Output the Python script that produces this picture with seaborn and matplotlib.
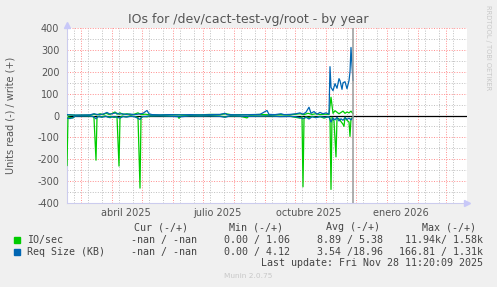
import numpy as np
import pandas as pd
import matplotlib
matplotlib.use("Agg")
import matplotlib.pyplot as plt
import matplotlib.dates as mdates
import matplotlib.transforms as mtransforms
import seaborn as sns

# ---------------- data (days since 2025-01-01) ----------------
BASE = pd.Timestamp("2025-01-01")

io_read_days = [45, 46, 48, 51, 53, 58, 66, 71, 72, 74, 75, 77, 80, 83, 86, 89, 92, 95, 97, 98,
                100, 104, 108, 112, 116, 118, 119, 121, 125, 128, 138, 148, 156, 157, 159, 168,
                178, 188, 198, 203, 208, 218, 225, 227, 238, 248, 258, 268, 273, 278, 280, 281,
                282, 284, 287, 290, 294, 298, 302, 306, 308, 309, 310, 312, 314, 315, 317, 319,
                321, 322, 323, 325, 327, 328, 329, 331]
io_read_vals = [-230, -6, -9, -11, -2, -1, -2, -4, -12, -205, -8, -3, -6, -2, -7, -4, -9, -5, -232, -8,
                -3, -6, -2, -4, -9, -333, -10, -4, -6, -2, -1, -3, -4, -13, -3, -1,
                -2, -1, -3, -6, -2, -3, -11, -2, -3, -2, -4, -3, -8, -12, -6, -327,
                -15, -6, -10, -4, -9, -5, -12, -6, -10, -339, -8, -25, -190, -12, -15, -28,
                -40, -50, -8, -22, -30, -96, -15, -8]

io_write_days = [45, 48, 53, 68, 72, 75, 78, 81, 84, 87, 90, 93, 95, 98, 101, 105, 109, 113, 116, 119,
                 123, 128, 138, 148, 158, 168, 178, 188, 198, 204, 210, 218, 228, 238, 248, 258,
                 268, 274, 278, 282, 286, 290, 294, 298, 303, 307, 309, 311, 313, 315, 317, 319,
                 321, 323, 325, 327, 329, 331]
io_write_vals = [2, 3, 1, 2, 6, 3, 8, 4, 10, 5, 9, 16, 6, 12, 5, 8, 3, 7, 12, 4,
                 6, 3, 2, 4, 3, 2, 3, 5, 4, 8, 3, 4, 3, 5, 3, 4,
                 3, 6, 8, 4, 10, 5, 8, 4, 6, 5, 84, 10, 22, 15, 8, 14,
                 20, 10, 16, 12, 20, 8]

req_read_days = [45, 48, 51, 53, 68, 72, 74, 76, 80, 84, 88, 91, 95, 98, 101, 105, 109, 113, 118, 120,
                 124, 128, 138, 148, 158, 168, 178, 188, 198, 203, 208, 218, 228, 238, 248, 258,
                 268, 274, 278, 281, 284, 287, 290, 294, 298, 303, 307, 309, 311, 313, 315, 317,
                 319, 321, 323, 325, 327, 329, 331]
req_read_vals = [-12, -14, -10, -3, -2, -6, -15, -5, -8, -4, -10, -5, -8, -12, -5, -7, -3, -6, -18, -6,
                 -4, -2, -2, -3, -6, -2, -3, -2, -4, -8, -2, -3, -4, -3, -2, -5,
                 -4, -6, -10, -14, -8, -16, -6, -10, -5, -8, -6, -30, -12, -20, -8, -25,
                 -15, -22, -10, -18, -12, -20, -8]

req_write_days = [45, 48, 53, 68, 72, 75, 78, 82, 85, 88, 91, 94, 97, 100, 104, 108, 112, 116, 121, 125,
                  127, 130, 138, 148, 158, 168, 178, 188, 198, 203, 205, 218, 228, 238, 245, 247,
                  253, 259, 262, 268, 274, 278, 281, 284, 287, 289, 292, 295, 298, 301, 304, 307,
                  308, 309, 311, 313, 315, 317, 318, 320, 321, 323, 325, 327, 328, 329, 330, 331]
req_write_vals = [4, 3, 2, 3, 8, 5, 4, 8, 14, 6, 9, 12, 6, 8, 5, 7, 4, 6, 10, 23,
                  8, 4, 3, 4, 3, 4, 3, 4, 5, 10, 4, 3, 4, 5, 23, 5,
                  4, 8, 4, 5, 8, 12, 6, 15, 38, 10, 18, 6, 14, 8, 12, 6,
                  224, 129, 114, 146, 125, 169, 160, 120, 150, 155, 123, 160, 200, 312, 230, 160]

now_time = "2025-11-28 11:20:09"
x_start = "2025-02-15"
x_end = "2026-03-22"
label_months = ["2025-04-15", "2025-07-15", "2025-10-15", "2026-01-15"]
label_texts = ["abril 2025", "julio 2025", "octubre 2025", "enero 2026"]
y_ticks = [-400, -300, -200, -100, 0, 100, 200, 300, 400]
y_ticklabels = ["-400", "-300", "-200", "-100", "0", "100", "200", "300", "400"]

legend_headers = ["Cur (-/+)", "Min (-/+)", "Avg (-/+)", "Max (-/+)"]
legend_names = ["IO/sec", "Req Size (KB)"]
legend_colors = ["#00cc00", "#0066b3"]
legend_values = [["-nan / -nan", "0.00 / 1.06", "8.89 / 5.38", "11.94k/ 1.58k"],
                 ["-nan / -nan", "0.00 / 4.12", "3.54 /18.96", "166.81 / 1.31k"]]

# ---------------- figure ----------------
sns.set_style("white")
plt.rcParams["font.family"] = ["DejaVu Sans"]
plt.rcParams["axes.unicode_minus"] = False

W, H = 497, 287
fig = plt.figure(figsize=(W / 100, H / 100), dpi=100, facecolor="#f0f0f0")
L, R, T, B = 67, 467, 28.3, 202.7
ax = fig.add_axes([L / W, 1 - B / H, (R - L) / W, (B - T) / H])
ax.set_facecolor("white")


def fx(px):
    return px / W


def fy(py):
    return 1 - py / H


def series(days, vals):
    return pd.DataFrame({"date": BASE + pd.to_timedelta(days, unit="D"), "value": vals})


ax.axhline(0, color="black", lw=0.9, zorder=2)

for days, vals, col in [(io_read_days, io_read_vals, "#00cc00"),
                        (io_write_days, io_write_vals, "#00cc00"),
                        (req_read_days, req_read_vals, "#0066b3"),
                        (req_write_days, req_write_vals, "#0066b3")]:
    sns.lineplot(data=series(days, vals), x="date", y="value", ax=ax, color=col,
                 linewidth=0.9, estimator=None, zorder=3)

ax.axvline(pd.Timestamp(now_time), color="#999999", lw=1.1, zorder=4)

ax.set_xlim(pd.Timestamp(x_start), pd.Timestamp(x_end))
ax.set_ylim(-400, 400)
ax.set_xlabel("")
ax.set_ylabel("")

# grid
red = (1, 0.55, 0.55)
gray = (0.75, 0.75, 0.75)
ax.xaxis.set_major_locator(mdates.MonthLocator())
ax.xaxis.set_minor_locator(mdates.DayLocator(bymonthday=[8, 22]))
ax.xaxis.set_major_formatter(matplotlib.ticker.NullFormatter())
ax.set_yticks(y_ticks)
ax.set_yticklabels(y_ticklabels)
ax.set_yticks(np.arange(-350, 400, 100), minor=True)
ax.set_axisbelow(True)
dot = (0, (1, 1.6))
ax.grid(which="major", color=red, linestyle=dot, linewidth=0.7)
ax.grid(which="minor", color=gray, linestyle=dot, linewidth=0.7)
ax.tick_params(axis="both", which="major", length=2, width=0.7, color=red,
               labelsize=7, labelcolor="#555555", pad=3.5)
ax.tick_params(axis="both", which="minor", length=1.5, width=0.7, color=gray)

for s in ["top", "right"]:
    ax.spines[s].set_visible(False)
for s in ["left", "bottom"]:
    ax.spines[s].set_color("#ccccee")
    ax.spines[s].set_linewidth(0.8)

# axis arrows
ax.plot([0], [1.02], marker="^", color="#c8c8f8", markersize=4.5, transform=ax.transAxes,
        clip_on=False, zorder=5)
ax.plot([1.0], [0], marker=">", color="#c8c8f8", markersize=4.5, transform=ax.transAxes,
        clip_on=False, zorder=5)

# month labels
trans = mtransforms.blended_transform_factory(ax.transData, ax.transAxes)
for d, t in zip(label_months, label_texts):
    ax.text(pd.Timestamp(d), -9.8 / (B - T), t, transform=trans, ha="center", va="center",
            fontsize=7, color="#555555")

# texts
fig.text(0.5, fy(20), "IOs for /dev/cact-test-vg/root - by year", ha="center", va="center",
         fontsize=9, color="#555555")
fig.text(fx(11), fy(115.5), "Units read (-) / write (+)", rotation=90, ha="center",
         va="center", fontsize=7, color="#555555")
fig.text(fx(488), fy(5), "RRDTOOL / TOBI OETIKER", rotation=270, ha="center", va="top",
         fontsize=4.8, color="#c8c8c8")

mono = dict(family="DejaVu Sans Mono", fontsize=7.2, color="#444444", va="center")
head_ends = [187.7, 283.3, 380, 476]
val_ends = [196.7, 290, 383.3, 482.7]
for h, xe in zip(legend_headers, head_ends):
    fig.text(fx(xe), fy(227.3), h, ha="right", **mono)
for i, (name, col, vals) in enumerate(zip(legend_names, legend_colors, legend_values)):
    yy = 240 + i * 12.3
    fig.patches.append(matplotlib.patches.Rectangle((fx(14), fy(yy + 3)), 6 / W, 6 / H,
                                                    transform=fig.transFigure, color=col))
    fig.text(fx(26.7), fy(yy), name, ha="left", **mono)
    for v, xe in zip(vals, val_ends):
        fig.text(fx(xe), fy(yy), v, ha="right", **mono)
fig.text(fx(482.7), fy(263.3), "Last update: Fri Nov 28 11:20:09 2025", ha="right", **mono)
fig.text(fx(248), fy(276), "Munin 2.0.75", ha="center", va="center", fontsize=5.3,
         color="#c8c8c8")

fig.savefig("out.png", dpi=100, facecolor=fig.get_facecolor())
